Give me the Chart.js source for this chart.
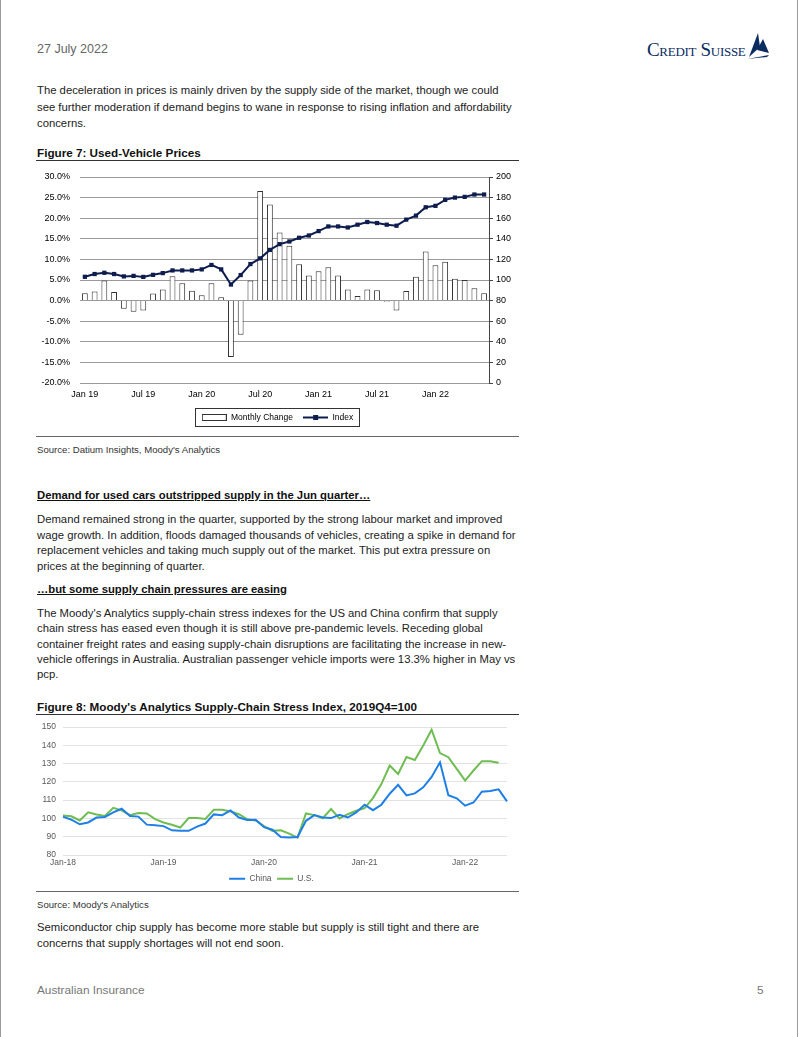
<!DOCTYPE html>
<html><head><meta charset="utf-8">
<script src="https://cdn.jsdelivr.net/npm/chart.js@4.4.0/dist/chart.umd.min.js"></script>
<style>
html,body{margin:0;padding:0;background:#fff;}
body{width:802px;height:1037px;position:relative;overflow:hidden;font-family:"Liberation Sans",Arial,Helvetica,sans-serif;color:#222;}
.pg{position:absolute;left:0;top:0;width:798px;height:1037px;border-left:1px solid #9a9a9a;border-right:1px solid #9a9a9a;box-sizing:border-box;}
.t{position:absolute;white-space:nowrap;}
.body{font-size:11.3px;line-height:15.5px;color:#222;left:37px;}
.h{font-weight:bold;text-decoration:underline;font-size:11.3px;line-height:15.5px;left:37px;color:#111;}
.fig{font-weight:bold;font-size:11.7px;line-height:14px;left:37px;color:#111;}
.src{font-size:9.6px;line-height:12px;left:37px;color:#333;}
.rule{position:absolute;left:36px;width:483px;height:0;}
.cw{position:absolute;left:36px;}
</style></head>
<body>
<div class="pg"></div>
<div class="t" style="left:37px;top:42px;font-size:12.5px;color:#666;">27 July 2022</div>
<div class="t" style="left:647px;top:39px;font-family:'Liberation Serif','DejaVu Serif',serif;font-variant:small-caps;font-size:19px;color:#0b2c5f;letter-spacing:-0.3px;">Credit Suisse</div>
<svg style="position:absolute;left:743px;top:30px" width="30" height="32" viewBox="0 0 30 32">
<polygon points="6,27 15,3 17,17" fill="#0b2c5f"/>
<polygon points="14,20 20,9 26,23" fill="#0b2c5f"/>
<polygon points="4,29 26,25 24,27" fill="#0b2c5f"/>
</svg>

<div class="t body" style="top:82px;line-height:16.5px;">The deceleration in prices is mainly driven by the supply side of the market, though we could<br>see further moderation if demand begins to wane in response to rising inflation and affordability<br>concerns.</div>

<div class="t fig" style="top:146px;">Figure 7: Used-Vehicle Prices</div>
<div class="rule" style="top:160px;border-top:1px solid #333;"></div>
<div class="cw" style="top:165px;"><canvas id="c1" width="483" height="268"></canvas></div>
<div class="rule" style="top:436px;border-top:1px solid #666;"></div>
<div class="t src" style="top:444px;">Source: Datium Insights, Moody's Analytics</div>

<div class="t h" style="top:488px;">Demand for used cars outstripped supply in the Jun quarter…</div>
<div class="t body" style="top:512px;">Demand remained strong in the quarter, supported by the strong labour market and improved<br>wage growth. In addition, floods damaged thousands of vehicles, creating a spike in demand for<br>replacement vehicles and taking much supply out of the market. This put extra pressure on<br>prices at the beginning of quarter.</div>
<div class="t h" style="top:582px;">…but some supply chain pressures are easing</div>
<div class="t body" style="top:606px;line-height:15.3px;">The Moody's Analytics supply-chain stress indexes for the US and China confirm that supply<br>chain stress has eased even though it is still above pre-pandemic levels. Receding global<br>container freight rates and easing supply-chain disruptions are facilitating the increase in new-<br>vehicle offerings in Australia. Australian passenger vehicle imports were 13.3% higher in May vs<br>pcp.</div>

<div class="t fig" style="top:700px;">Figure 8: Moody's Analytics Supply-Chain Stress Index, 2019Q4=100</div>
<div class="rule" style="top:714px;border-top:1px solid #333;"></div>
<div class="rule" style="top:891px;border-top:1px solid #666;"></div>
<div class="cw" style="top:718px;"><canvas id="c2" width="483" height="175"></canvas></div>
<div class="t src" style="top:899px;">Source: Moody's Analytics</div>
<div class="t body" style="top:920px;">Semiconductor chip supply has become more stable but supply is still tight and there are<br>concerns that supply shortages will not end soon.</div>

<div class="t" style="left:37px;top:983px;font-size:11.8px;color:#777;">Australian Insurance</div>
<div class="t" style="left:757px;top:983px;font-size:11.8px;color:#777;">5</div>

<script>
// ---------- Data ----------
const MONTHS = ['Jan','Feb','Mar','Apr','May','Jun','Jul','Aug','Sep','Oct','Nov','Dec'];

// Figure 7: Used-vehicle prices, Jan 2019 - Jun 2022
const usedCategories = [];
for (let y = 19; y <= 22; y++) for (let m = 0; m < 12; m++) { if (y === 22 && m > 5) break; usedCategories.push(MONTHS[m] + ' ' + y); }
const monthlyChange = [1.8,2.2,4.9,2.1,-2.0,-2.7,-2.4,1.7,2.7,5.9,4.2,2.4,
                       1.3,4.2,0.8,-13.7,-8.3,4.9,26.6,23.3,16.5,13.3,8.8,6.1,
                       7.1,8.1,6.1,2.7,1.1,2.7,2.5,-0.3,-2.4,2.3,5.8,11.9,
                       8.6,9.4,5.3,5.0,3.0,1.8];
const usedIndex = [103.1,105.8,107.0,105.8,103.5,104.0,103.0,105.0,106.7,109.3,109.3,109.3,
                   110.3,114.6,110.3,95.6,104.8,115.5,121.0,129.2,134.8,137.4,141.0,143.2,
                   147.5,152.0,152.0,151.0,153.7,156.3,155.3,153.7,152.7,158.6,162.5,170.6,
                   172.0,177.8,180.0,180.7,183.0,183.0];
const pctTicks = {min:-20, max:30, step:5};
const idxTicks = {min:0, max:200, step:20};

// Figure 8: Supply-chain stress index, Jan 2018 - Jun 2022
const stressCategories = [];
for (let y = 18; y <= 22; y++) for (let m = 0; m < 12; m++) { if (y === 22 && m > 5) break; stressCategories.push(MONTHS[m] + '-' + y); }
const china = [101.0,99.3,96.8,97.8,100.5,100.8,103.3,105.3,101.3,101.0,96.6,96.3,
               95.8,93.5,93.2,93.2,95.5,97.2,102.2,101.8,104.4,100.5,99.2,99.3,
               95.2,93.8,89.8,89.6,89.8,98.7,101.8,100.5,100.2,102.0,100.5,103.3,
               107.5,104.5,107.5,113.5,118.4,112.6,113.7,117.0,122.7,130.7,112.7,111.0,
               107.0,108.7,114.6,115.0,115.9,109.3];
const us = [101.6,101.2,98.9,103.3,102.1,101.4,105.8,104.4,101.8,103.0,102.7,99.6,
            97.8,96.5,95.0,100.2,100.2,99.7,104.7,104.8,103.8,102.3,99.5,98.9,
            95.8,93.2,93.5,91.7,89.5,102.7,101.8,100.1,105.1,100.0,102.3,104.2,
            105.6,111.1,118.8,128.9,124.3,133.6,132.0,139.9,148.5,135.7,133.5,127.1,
            120.7,126.2,131.3,131.3,130.4];
const stressTicks = {min:80, max:150, step:10};

// ---------- Styles ----------
const NAVY = '#0e1c4e';
const CLEAR = 'rgba(0,0,0,0)';
const FONT = '"Liberation Sans", Arial, Helvetica, sans-serif';
Chart.defaults.font.family = FONT;
Chart.defaults.animation = false;

function swatchBar(){ const c=document.createElement('canvas'); c.width=25; c.height=7; const g=c.getContext('2d'); g.fillStyle='#fff'; g.fillRect(0.5,0.5,24,6); g.strokeStyle='#333'; g.lineWidth=1; g.strokeRect(0.5,0.5,24,6); return c; }
function swatchLine(){ const c=document.createElement('canvas'); c.width=25; c.height=7; const g=c.getContext('2d'); g.strokeStyle=NAVY; g.lineWidth=2; g.beginPath(); g.moveTo(0,3.5); g.lineTo(25,3.5); g.stroke(); g.fillStyle=NAVY; g.fillRect(10,1,5,5); return c; }
const SW = [swatchBar(), swatchLine()];

const legendFrame = {
  id:'legendFrame',
  afterDraw(chart){
    const lg = chart.legend; if (!lg || !lg.legendHitBoxes || !lg.legendHitBoxes.length) return;
    let x0=Infinity,x1=-Infinity,y0=Infinity,y1=-Infinity;
    lg.legendHitBoxes.forEach(b=>{x0=Math.min(x0,b.left);x1=Math.max(x1,b.left+b.width);y0=Math.min(y0,b.top);y1=Math.max(y1,b.top+b.height);});
    const c = chart.ctx; c.save(); c.strokeStyle='#333'; c.lineWidth=1;
    c.strokeRect(Math.round(x0-7)+0.5, Math.round(y0-5)+0.5, Math.round(x1-x0+13), Math.round(y1-y0+9));
    c.restore();
  }
};

new Chart(document.getElementById('c1'), {
  data: {
    labels: usedCategories,
    datasets: [
      {type:'bar', label:'Monthly Change', data: monthlyChange, yAxisID:'y', backgroundColor:'#ffffff', borderColor:'#333', borderWidth:1, categoryPercentage:1, barPercentage:0.6, order:2},
      {type:'line', label:'Index', data: usedIndex, yAxisID:'y1', borderColor:NAVY, backgroundColor:NAVY, borderWidth:2, pointStyle:'rect', pointRadius:3, pointBackgroundColor:NAVY, pointBorderWidth:0, tension:0, order:1}
    ]
  },
  options: {
    responsive:false,
    layout:{padding:{top:12,bottom:1.25,left:0,right:0}},
    plugins:{
      tooltip:{enabled:false},
      legend:{position:'bottom', labels:{usePointStyle:true, pointStyleWidth:25, boxHeight:7, padding:10.25, color:'#000', font:{size:8.5},
        generateLabels: chart => chart.data.datasets.map((d,i)=>({text:d.label, pointStyle:SW[i], datasetIndex:i, hidden:false, lineWidth:0, strokeStyle:CLEAR, fillStyle:CLEAR, fontColor:'#000'}))}}
    },
    scales:{
      x:{grid:{display:false, drawTicks:false}, border:{display:false},
         ticks:{autoSkip:false, maxRotation:0, padding:6, color:'#000', font:{size:9}, callback:(v,i)=> i%6===0 ? usedCategories[i] : ''},
         afterFit:s=>{s.height=20;}},
      y:{position:'left', min:pctTicks.min, max:pctTicks.max,
         ticks:{stepSize:pctTicks.step, padding:3, color:'#000', font:{size:9}, callback:v=>v.toFixed(1)+'%'},
         grid:{color:'#9a9a9a', tickColor:CLEAR, tickLength:7}, border:{display:false},
         afterFit:s=>{s.width=44;}},
      y1:{position:'right', min:idxTicks.min, max:idxTicks.max,
         ticks:{stepSize:idxTicks.step, padding:3, color:'#000', font:{size:9}},
         grid:{drawOnChartArea:false, color:'#444', tickLength:4}, border:{display:true, color:'#444'},
         afterFit:s=>{s.width=30;}}
    }
  },
  plugins:[legendFrame]
});

new Chart(document.getElementById('c2'), {
  type:'line',
  data:{
    labels: stressCategories,
    datasets:[
      {label:'China', data: china, borderColor:'#1f7fe6', backgroundColor:'#1f7fe6', borderWidth:2, pointRadius:0, tension:0},
      {label:'U.S.', data: us, borderColor:'#6fbd52', backgroundColor:'#6fbd52', borderWidth:2, pointRadius:0, tension:0}
    ]
  },
  options:{
    responsive:false,
    layout:{padding:{top:9,bottom:0,left:0,right:12}},
    plugins:{
      tooltip:{enabled:false},
      legend:{position:'bottom', labels:{usePointStyle:true, pointStyle:'line', pointStyleWidth:16, padding:5.5, color:'#595959', font:{size:8.5}}}
    },
    scales:{
      x:{offset:false, grid:{display:false, drawTicks:false}, border:{display:false},
         ticks:{autoSkip:false, maxRotation:0, padding:3, color:'#595959', font:{size:8.5}, callback:(v,i)=> i%12===0 ? stressCategories[i] : ''},
         afterFit:s=>{s.height=14;}},
      y:{min:stressTicks.min, max:stressTicks.max,
         ticks:{stepSize:stressTicks.step, padding:3, color:'#595959', font:{size:8.5}},
         grid:{color:'#e2e2e2', tickColor:CLEAR, tickLength:4}, border:{display:false},
         afterFit:s=>{s.width=27;}}
    }
  }
});
</script>
</body></html>
